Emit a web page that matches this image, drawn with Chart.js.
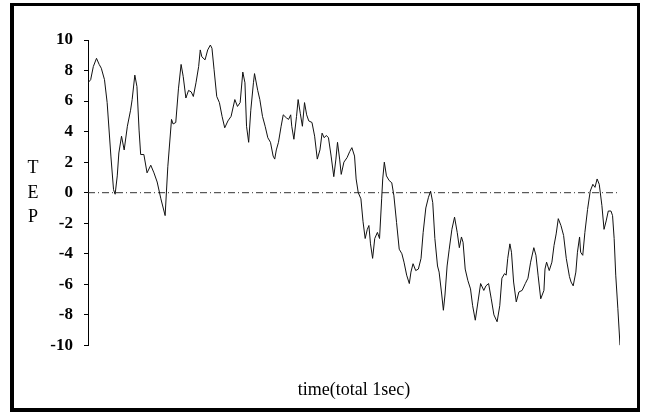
<!DOCTYPE html>
<html>
<head>
<meta charset="utf-8">
<script src="https://cdn.jsdelivr.net/npm/chart.js@4.4.1/dist/chart.umd.min.js"></script>
<style>
  html, body { margin: 0; padding: 0; background: #fff; }
  #wrap { position: relative; width: 645px; height: 417px; }
  #frame {
    position: absolute; left: 10px; top: 3px; width: 623px; height: 402px;
    border: 3px solid #000; border-left-width: 4px; border-bottom-width: 4px;
    pointer-events: none;
  }
  .tep {
    position: absolute; left: 25px; width: 16px; text-align: center;
    font: 18px "Liberation Serif", "Times New Roman", serif; color: #000;
  }
</style>
</head>
<body>
<div id="wrap">
  <canvas id="chart"></canvas>
  <div id="frame"></div>
  <div class="tep" style="top:157px">T</div>
  <div class="tep" style="top:182px">E</div>
  <div class="tep" style="top:206px">P</div>
</div>
<script>
// time axis in ms (total 1 sec), TEP values
const timeMs = [0,5,10,16,21,25,31,36,43,48,51,55,58,63,68,74,80,83,88,92,96,99,105,111,118,124,130,137,145,150,157,160,165,170,175,179,184,189,194,198,203,208,211,214,220,225,230,233,237,242,247,252,257,263,269,276,281,286,291,295,298,302,306,311,313,319,323,328,333,338,343,348,351,354,358,363,367,373,377,381,383,387,392,395,399,403,407,411,415,421,426,431,436,440,444,448,452,457,462,466,469,473,476,481,487,492,496,501,504,508,513,517,521,525,528,531,535,539,544,548,552,554,557,561,566,571,575,580,585,590,594,599,604,607,611,616,621,626,630,635,640,644,648,652,657,660,665,668,671,675,679,684,689,694,698,702,705,709,714,719,723,728,733,738,744,748,753,758,763,769,774,778,783,786,789,793,796,800,805,810,816,822,827,832,838,842,846,851,857,859,862,867,872,876,880,884,889,894,899,905,908,912,917,920,924,926,930,934,939,944,949,953,957,961,966,970,974,978,983,986,989,992,996,1000];
const tep = [7.2,7.4,8.26,8.8,8.4,8.15,7.4,5.9,2.4,0.2,-0.1,1.1,2.6,3.7,2.8,4.35,5.4,6.1,7.7,6.95,4.1,2.5,2.5,1.3,1.8,1.3,0.7,-0.4,-1.5,1.7,4.8,4.5,4.6,6.8,8.4,7.6,6.2,6.7,6.6,6.3,7.2,8.26,9.35,8.9,8.7,9.35,9.67,9.46,8.05,6.3,5.9,5.0,4.25,4.7,5.0,6.1,5.65,5.9,7.9,7.2,4.35,3.3,5.4,7.2,7.8,6.7,6.1,5.0,4.35,3.6,3.3,2.4,2.2,2.8,3.3,4.35,5.1,4.9,4.8,5.1,4.35,3.5,5.0,6.1,5.2,4.35,5.9,5.1,4.7,4.6,3.7,2.2,2.8,3.9,3.6,3.75,3.6,2.4,1.05,2.2,3.3,2.2,1.2,2.0,2.3,2.7,2.95,2.4,0.9,0,-0.4,-1.9,-3.0,-2.4,-2.15,-3.35,-4.3,-3.0,-2.6,-3.0,-0.4,0.9,2.0,1.1,0.8,0.65,-0.2,-1.95,-3.7,-4.0,-4.55,-5.4,-5.95,-5.2,-4.65,-5.1,-5.0,-4.3,-2.6,-1.0,-0.3,0.1,-0.65,-3.0,-4.8,-5.2,-6.7,-7.7,-6.7,-4.8,-3.7,-2.4,-1.6,-2.6,-3.6,-2.9,-3.25,-5.0,-5.75,-6.3,-7.4,-8.35,-7.15,-5.95,-6.4,-6.1,-5.95,-6.95,-8.0,-8.45,-7.4,-5.6,-5.3,-5.4,-4.3,-3.35,-3.9,-5.85,-7.15,-6.5,-6.4,-5.95,-5.6,-4.55,-3.6,-4.1,-5.4,-6.95,-6.4,-5.0,-4.55,-5.1,-4.55,-3.45,-2.7,-1.7,-2.15,-2.8,-4.3,-5.5,-5.85,-6.1,-5.2,-3.9,-2.9,-3.9,-4.1,-2.6,-1.1,0.1,0.55,0.35,0.9,0.55,-0.85,-2.4,-1.85,-1.2,-1.2,-1.5,-3.0,-5.4,-7.6,-10.0];
const yTicks = [-10,-8,-6,-4,-2,0,2,4,6,8,10];
const zeroLine = [0, 0];
const zeroSpan = [0, 1000];

const serif = '"Liberation Serif", "Times New Roman", serif';

new Chart(document.getElementById('chart'), {
  type: 'line',
  data: {
    datasets: [
      {
        data: timeMs.map((t, i) => ({x: t, y: tep[i]})),
        borderColor: '#111',
        borderWidth: 1,
        pointRadius: 0,
        tension: 0
      },
      {
        data: zeroSpan.map((t, i) => ({x: t, y: zeroLine[i]})),
        borderColor: '#333',
        borderWidth: 1,
        borderDash: [7, 3, 1, 3],
        pointRadius: 0
      }
    ]
  },
  options: {
    responsive: true,
    maintainAspectRatio: false,
    animation: false,
    layout: { padding: { top: 40, right: 25, bottom: 12, left: 0 } },
    plugins: { legend: { display: false }, tooltip: { enabled: false } },
    scales: {
      x: {
        type: 'linear', min: 0, max: 1000,
        grid: { display: false, drawTicks: false },
        border: { display: false },
        ticks: { display: false },
        title: {
          display: true, text: 'time(total 1sec)', color: '#000',
          font: { family: serif, size: 18 },
          padding: { top: 34, bottom: 4 }
        }
      },
      y: {
        min: -10, max: 10,
        afterBuildTicks: s => { s.ticks = yTicks.map(v => ({value: v})); },
        afterFit: s => { s.width = 88; },
        grid: { display: true, drawOnChartArea: false, drawTicks: true, tickLength: 4, color: '#000' },
        border: { display: true, color: '#000', width: 1 },
        ticks: { color: '#000', padding: 11, font: { family: serif, size: 17, weight: 'bold' } }
      }
    }
  }
});
</script>
</body>
</html>
